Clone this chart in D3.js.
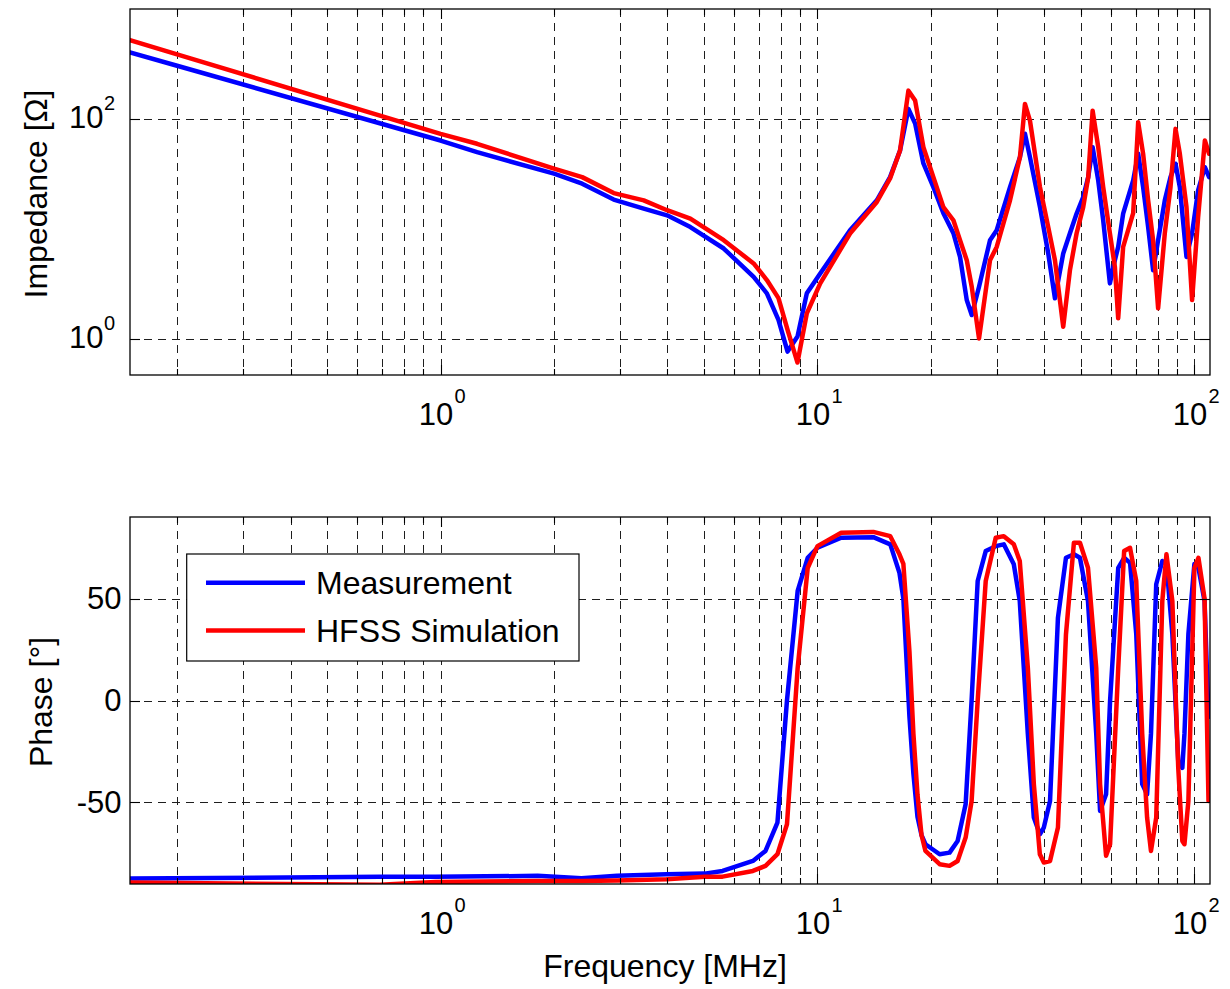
<!DOCTYPE html>
<html>
<head>
<meta charset="utf-8">
<script src="https://cdn.jsdelivr.net/npm/d3@7"></script>
<style>
  html, body { margin: 0; padding: 0; background: #fff; }
  svg { display: block; font-family: "Liberation Sans", Arial, Helvetica, sans-serif; }
</style>
</head>
<body>
<svg id="chart" width="1230" height="989"></svg>
<script>
// ---------------- DATA ----------------
const seriesNames = ["Measurement", "HFSS Simulation"];
const seriesColors = ["#0000ff", "#ff0000"];

// Impedance panel
const impFreq = [
  0.15, 0.2, 1, 1.25, 2, 2.375, 2.88, 3.46, 3.99, 4.6,
  5.64, 6.77, 7.34, 7.88, 8.33, 8.85, 9.37, 10.17, 12.2, 14.37,
  15.58, 16.56, 17.43, 18.16, 19.1, 20.3, 21.58, 22.94, 23.89, 24.89,
  25.66, 26.83, 28.69, 29.89, 32.42, 34.45, 35.52, 36.62, 38.93, 40.95,
  42.66, 44.87, 46.75, 48.7, 50.7, 52.28, 53.7, 55.57, 57.28, 59.68,
  61.52, 62.78, 64.71, 68.8, 70.94, 73.11, 75.38, 77.71, 80.12, 83.46,
  86.42, 89.11, 91.48, 95.28, 98.6, 102.3, 106.6, 109.4
];
const impMeasurement = [
  402, 305, 63.7, 49.9, 31.8, 25.8, 18.5, 15.3, 13.3, 10.4,
  6.64, 3.67, 2.6, 1.49, 0.767, 1.05, 2.6, 3.94, 9.73, 18.2,
  29.6, 51.7, 123.5, 90.8, 39.4, 24.0, 13.9, 9.14, 5.57, 2.26,
  1.65, 2.98, 7.9, 9.73, 24.0, 45, 73.3, 45, 15.8, 5.98,
  2.34, 5.98, 9.14, 13.8, 19.5, 29.6, 55.4, 27.6, 12.0, 3.2,
  5.2, 6.87, 13.8, 27.6, 48.3, 24.0, 10.4, 4.22, 7.9, 18.2,
  29.6, 39.2, 24.0, 5.57, 9.14, 22.4, 36.5, 29.6
];
const impSimulation = [
  521, 387, 73.3, 59.5, 35.3, 29.6, 21.2, 18.2, 14.8, 12.4,
  7.9, 4.86, 3.43, 2.35, 1.21, 0.61, 1.71, 3.2, 9.08, 17.6,
  28.8, 51.7, 181, 147, 55.4, 29.6, 15.8, 12.0, 7.9, 5.2,
  2.98, 1.01, 5.2, 6.87, 18.2, 45, 137, 96.7, 24.0, 10.4,
  5.2, 1.29, 4.22, 9.14, 15.8, 29.6, 119, 55.4, 24.0, 9.14,
  4.52, 1.54, 6.87, 13.9, 93.4, 48.3, 18.2, 7.9, 1.9, 9.14,
  24.0, 81.3, 48.3, 15.8, 2.26, 12.8, 63.7, 48.3
];

// Phase panel
const phaseFreq = [
  0.15, 0.69, 0.97, 1.81, 2.365, 2.94, 3.98, 5.02, 5.6, 6.74,
  7.28, 7.83, 8.30, 8.86, 9.42, 10.0, 11.56, 14.07, 15.6, 16.5,
  16.9, 17.54, 17.97, 18.42, 18.88, 19.34, 21.09, 22.41, 23.54, 24.72,
  25.64, 26.61, 27.95, 29.71, 31.21, 33.18, 34.41, 36.15, 37.5, 38.9,
  39.86, 41.4, 43.45, 45.63, 47.9, 49.7, 52.2, 54.9, 56.2, 58.3,
  59.75, 62.8, 65.1, 67.5, 70.1, 72.7, 74.9, 76.7, 79.2, 82.2,
  84.3, 87.4, 90.6, 92.9, 94.1, 96.4, 100, 102.5, 106.4, 109.0
];
const phaseMeasurement = [
  -87.3, -86.5, -86.5, -86, -87.2, -85.9, -85.2, -84.9, -83.6, -78.7,
  -73.8, -59.9, 0, 53.7, 70, 74.9, 79.8, 80.1, 76.6, 62.6,
  50, -8, -36, -57, -66, -70.5, -75.4, -74.6, -68.9, -50.9,
  0, 58.6, 73.3, 75.7, 76.6, 66.8, 48.8, -16.4, -57.4, -65.6,
  -62.3, -49.3, 40.6, 70, 71.7, 70, 48.8, -16.4, -54.2, -46,
  0, 65.1, 70, 67.5, 32.6, -41, -46, -16.4, 57, 68.4,
  67, 32.6, -29.6, -33, -16.4, 32.6, 67, 65, 48.8, -8
];
const phaseSimulation = [
  -89.3, -90.4, -89, -88.5, -88.5, -88.3, -87.7, -86.4, -86.4, -83.6,
  -81.1, -75.4, -60.7, 16, 65, 75.7, 82.3, 82.7, 80.6, 71.7,
  67, 24, -16.4, -46, -66, -73.8, -80.3, -81.1, -78.7, -67.2,
  -49.3, 0, 58.6, 79.8, 80.6, 76.6, 68.4, 16, -41, -75.4,
  -79.5, -78.7, -62.3, 32.4, 77.4, 77.4, 65.1, 16, -41, -76.2,
  -70.5, 16, 73.3, 74.9, 58.6, -16.4, -57.4, -73.8, -57.4, 48.8,
  71.7, 48.8, -33, -68.9, -70.5, -49.3, 65, 70, 50, -49.3
];

// Axes / ticks
const freqDomain = [0.15, 110];
const freqMajorTicks = [1, 10, 100];
const impDomain = [0.47, 1000];
const impTicks = [1, 100];
const phaseDomain = [-90, 90];
const phaseTicks = [-50, 0, 50];
const xLabel = "Frequency [MHz]";
const impLabel = "Impedance [\u03A9]";
const phaseLabel = "Phase [\u00B0]";

// ---------------- DRAW ----------------
const svg = d3.select("#chart");
svg.append("rect").attr("width", 1230).attr("height", 989).attr("fill", "#fff");

const LEFT = 130, RIGHT = 1210;
const FONT = 32;
const x = d3.scaleLog().domain(freqDomain).range([LEFT, RIGHT]);

// all x grid values (major + minor)
const xGrid = [];
for (let e = -1; e <= 2; e++) {
  for (let k = 1; k <= 9; k++) {
    const v = k * Math.pow(10, e);
    if (v >= freqDomain[0] && v <= freqDomain[1]) xGrid.push(v);
  }
}
const isMajor = v => freqMajorTicks.some(m => Math.abs(m - v) < 1e-9);

function panel(id, y, top, bottom, yTicks, yTickFmt, series, freqs) {
  const g = svg.append("g");
  const clipId = "clip-" + id;
  svg.append("defs").append("clipPath").attr("id", clipId)
    .append("rect").attr("x", LEFT).attr("y", top)
    .attr("width", RIGHT - LEFT).attr("height", bottom - top);

  // grid
  const grid = g.append("g").attr("stroke", "#1e1e1e").attr("stroke-width", 1)
    .attr("stroke-dasharray", "8,6").attr("fill", "none");
  xGrid.forEach(v => {
    grid.append("line").attr("x1", Math.round(x(v)) + 0.5).attr("x2", Math.round(x(v)) + 0.5)
      .attr("y1", top).attr("y2", bottom);
  });
  yTicks.forEach(v => {
    grid.append("line").attr("x1", LEFT).attr("x2", RIGHT)
      .attr("y1", Math.round(y(v)) + 0.5).attr("y2", Math.round(y(v)) + 0.5);
  });

  // lines
  const lines = g.append("g").attr("clip-path", `url(#${clipId})`);
  series.forEach((vals, i) => {
    const line = d3.line().x(d => x(d[0])).y(d => y(d[1]));
    lines.append("path")
      .datum(freqs.map((f, j) => [f, vals[j]]))
      .attr("d", line)
      .attr("fill", "none")
      .attr("stroke", seriesColors[i])
      .attr("stroke-width", 4.5)
      .attr("stroke-linejoin", "round")
      .attr("stroke-linecap", "round");
  });

  // box
  g.append("rect").attr("x", LEFT).attr("y", top)
    .attr("width", RIGHT - LEFT).attr("height", bottom - top)
    .attr("fill", "none").attr("stroke", "#000").attr("stroke-width", 1.3);

  // ticks
  const tk = g.append("g").attr("stroke", "#000").attr("stroke-width", 1.1);
  xGrid.forEach(v => {
    const len = isMajor(v) ? 10 : 6;
    const px = Math.round(x(v)) + 0.5;
    tk.append("line").attr("x1", px).attr("x2", px).attr("y1", bottom).attr("y2", bottom - len);
    tk.append("line").attr("x1", px).attr("x2", px).attr("y1", top).attr("y2", top + len);
  });
  yTicks.forEach(v => {
    const py = Math.round(y(v)) + 0.5;
    tk.append("line").attr("x1", LEFT).attr("x2", LEFT + 10).attr("y1", py).attr("y2", py);
    tk.append("line").attr("x1", RIGHT).attr("x2", RIGHT - 10).attr("y1", py).attr("y2", py);
  });

  // x tick labels 10^n
  freqMajorTicks.forEach(v => {
    const e = Math.round(Math.log10(v));
    g.append("text").attr("x", x(v) - 4.5).attr("y", bottom + 50)
      .attr("text-anchor", "middle").attr("font-size", 31).attr("fill", "#000").text("10");
    g.append("text").attr("x", x(v) + 14).attr("y", bottom + 28)
      .attr("text-anchor", "start").attr("font-size", 20).attr("fill", "#000").text(String(e));
  });

  // y tick labels
  yTicks.forEach(v => yTickFmt(g, v, y(v)));
  return g;
}

// Top: impedance
const yImp = d3.scaleLog().domain(impDomain).range([375, 9]);
panel("imp", yImp, 9, 375, impTicks, (g, v, py) => {
  const e = Math.round(Math.log10(v));
  g.append("text").attr("x", 103.5).attr("y", py + 9.5)
    .attr("text-anchor", "end").attr("font-size", 31).text("10");
  g.append("text").attr("x", 104).attr("y", py - 8.5)
    .attr("text-anchor", "start").attr("font-size", 20).text(String(e));
}, [impMeasurement, impSimulation], impFreq);

// Bottom: phase
const yPh = d3.scaleLinear().domain(phaseDomain).range([884, 517]);
panel("ph", yPh, 517, 884, phaseTicks, (g, v, py) => {
  g.append("text").attr("x", 121.5).attr("y", py + 10.8)
    .attr("text-anchor", "end").attr("font-size", 31).text(String(v));
}, [phaseMeasurement, phaseSimulation], phaseFreq);

// axis titles
svg.append("text").attr("transform", "translate(47,194) rotate(-90)")
  .attr("text-anchor", "middle").attr("font-size", FONT).text(impLabel);
svg.append("text").attr("transform", "translate(51.5,702) rotate(-90)")
  .attr("text-anchor", "middle").attr("font-size", FONT).text(phaseLabel);
svg.append("text").attr("x", 665).attr("y", 977)
  .attr("text-anchor", "middle").attr("font-size", FONT).text(xLabel);

// legend
const lg = svg.append("g");
lg.append("rect").attr("x", 186.7).attr("y", 554).attr("width", 392.3).attr("height", 107)
  .attr("fill", "#fff").attr("stroke", "#000").attr("stroke-width", 1.2);
const legY = [582.7, 630.5];
seriesNames.forEach((name, i) => {
  lg.append("line").attr("x1", 206).attr("x2", 305).attr("y1", legY[i]).attr("y2", legY[i])
    .attr("stroke", seriesColors[i]).attr("stroke-width", 4.5);
  lg.append("text").attr("x", 316).attr("y", legY[i] + 11).attr("font-size", FONT).text(name);
});
</script>
</body>
</html>
